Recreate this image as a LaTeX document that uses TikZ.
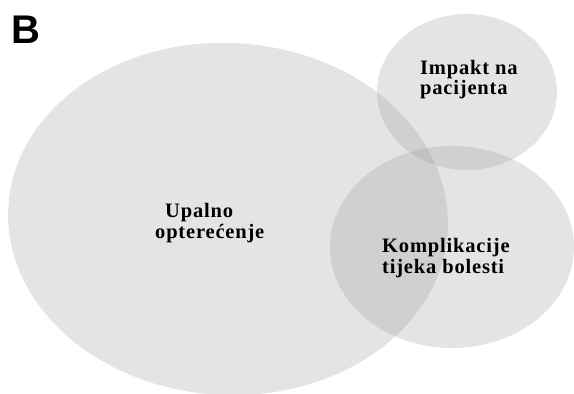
\documentclass[tikz,border=0pt]{standalone}
\usepackage{fontspec}
\newfontfamily\labfont[LetterSpace=4]{Liberation Serif}
\newfontfamily\letterfont{Liberation Sans}
\definecolor{vfill}{RGB}{151,151,151}
\tikzset{
  venn/.style={fill=vfill, fill opacity=0.26, draw=none},
  lab/.style={anchor=base west, inner sep=0pt, align=left, text=black,
    font=\labfont\bfseries\fontsize{20.5}{21}\selectfont},
}
\begin{document}
\begin{tikzpicture}[x=1pt,y=-1pt]
\useasboundingbox (0,0) rectangle (574,394);
\path[venn] (228,219) ellipse [x radius=220, y radius=176, rotate=-3];
\path[venn] (467,92) ellipse [x radius=90, y radius=78];
\path[venn] (452,247) ellipse [x radius=122, y radius=101];
\node[anchor=base west, inner sep=0pt, font=\letterfont\bfseries\fontsize{40}{40}\selectfont] (B) at (11,43) {B};
\node[lab] (up) at (155,238) {\hspace*{10pt}Upalno\\opterećenje};
\node[lab, font=\labfont\bfseries\fontsize{20.5}{17.5}\selectfont] (imp) at (420,94) {Impakt na\\pacijenta};
\node[lab] (kom) at (382,273) {Komplikacije\\tijeka bolesti};
\end{tikzpicture}
\end{document}
